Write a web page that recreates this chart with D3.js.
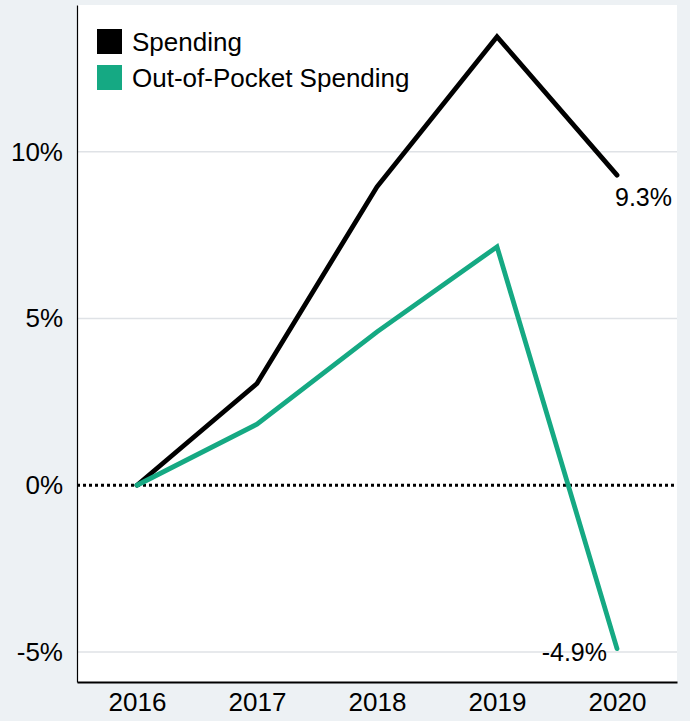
<!DOCTYPE html>
<html>
<head>
<meta charset="utf-8">
<script src="https://cdn.jsdelivr.net/npm/d3@7"></script>
<style>
  body { margin: 0; background: #edf1f4; }
  svg { display: block; font-family: "Liberation Sans", Arial, sans-serif; }
</style>
</head>
<body>
<svg id="canvas" width="690" height="721"></svg>
<script>
let years = ['2016', '2017', '2018', '2019', '2020'];
let spending = [0, 3.05, 8.95, 13.45, 9.3];
let outOfPocket = [0, 1.83, 4.6, 7.15, -4.9];
let yTicks = [-5, 0, 5, 10];
let seriesNames = ['Spending', 'Out-of-Pocket Spending'];
let seriesColors = ['#000000', '#15a983'];

let canvas = d3.select('#canvas');
let fontFamily = '"Liberation Sans", Arial, sans-serif';
let fontSize = 26;

let margin = { top: 5, right: 13, bottom: 39, left: 77 };
let width = 690 - margin.left - margin.right;
let height = 721 - margin.top - margin.bottom;

let xScale = d3.scalePoint().domain(years).range([0, width]).padding(0.5);
let yScale = d3.scaleLinear().domain([-5.9, 14.4]).range([height, 0]);

let plot = canvas.append('g')
	.attr('transform', 'translate(' + margin.left + ', ' + margin.top + ')');

plot.append('rect')
	.attr('width', width)
	.attr('height', height)
	.attr('fill', '#ffffff');

// gridlines
plot.selectAll('.grid')
	.data(yTicks.filter((t) => t !== 0))
	.enter()
	.append('line')
	.attr('x1', 0)
	.attr('x2', width)
	.attr('y1', (t) => yScale(t))
	.attr('y2', (t) => yScale(t))
	.attr('stroke', '#dfe2e6')
	.attr('stroke-width', 1.5);

// zero line
plot.append('line')
	.attr('x1', 0)
	.attr('x2', width)
	.attr('y1', yScale(0))
	.attr('y2', yScale(0))
	.attr('stroke', '#000')
	.attr('stroke-width', 3)
	.attr('stroke-dasharray', '3,3');

// y axis
let yAxis = d3.axisLeft(yScale)
	.tickValues(yTicks)
	.tickSize(0)
	.tickPadding(14)
	.tickFormat((t) => t + '%');

let yAxisGroup = plot.append('g').call(yAxis);
yAxisGroup.attr('font-size', fontSize).attr('font-family', fontFamily);
yAxisGroup.select('.domain').attr('stroke', '#000').attr('stroke-width', 1.2);
yAxisGroup.selectAll('text').attr('fill', '#000');

// x axis
let xAxis = d3.axisBottom(xScale).tickSize(0).tickPadding(11);
let xAxisGroup = plot.append('g')
	.attr('transform', 'translate(0, ' + height + ')')
	.call(xAxis);
xAxisGroup.attr('font-size', fontSize).attr('font-family', fontFamily);
xAxisGroup.select('.domain').attr('stroke', '#000').attr('stroke-width', 2);
xAxisGroup.selectAll('text').attr('fill', '#000');

// lines
let line = d3.line()
	.x((d, i) => xScale(years[i]))
	.y((d) => yScale(d));

[spending, outOfPocket].forEach((series, i) => {
	plot.append('path')
		.datum(series)
		.attr('d', line)
		.attr('fill', 'none')
		.attr('stroke', seriesColors[i])
		.attr('stroke-width', 4.8)
		.attr('stroke-linejoin', 'miter')
		.attr('stroke-linecap', 'round');
});

// end labels
let last = years.length - 1;
plot.append('text')
	.attr('x', xScale(years[last]) - 2)
	.attr('y', yScale(spending[last]) + 31)
	.attr('font-size', 25)
	.text(spending[last] + '%');

plot.append('text')
	.attr('x', xScale(years[last]) - 10)
	.attr('y', yScale(outOfPocket[last]) + 12)
	.attr('text-anchor', 'end')
	.attr('font-size', 25)
	.text(outOfPocket[last] + '%');

// legend
let legend = plot.selectAll('.legend')
	.data(seriesNames)
	.enter()
	.append('g')
	.attr('transform', (d, i) => 'translate(20, ' + (24 + i * 36) + ')');

legend.append('rect')
	.attr('width', 25)
	.attr('height', 25)
	.attr('fill', (d, i) => seriesColors[i]);

legend.append('text')
	.attr('x', 35)
	.attr('y', 22)
	.attr('font-size', fontSize)
	.text((d) => d);
</script>
</body>
</html>
